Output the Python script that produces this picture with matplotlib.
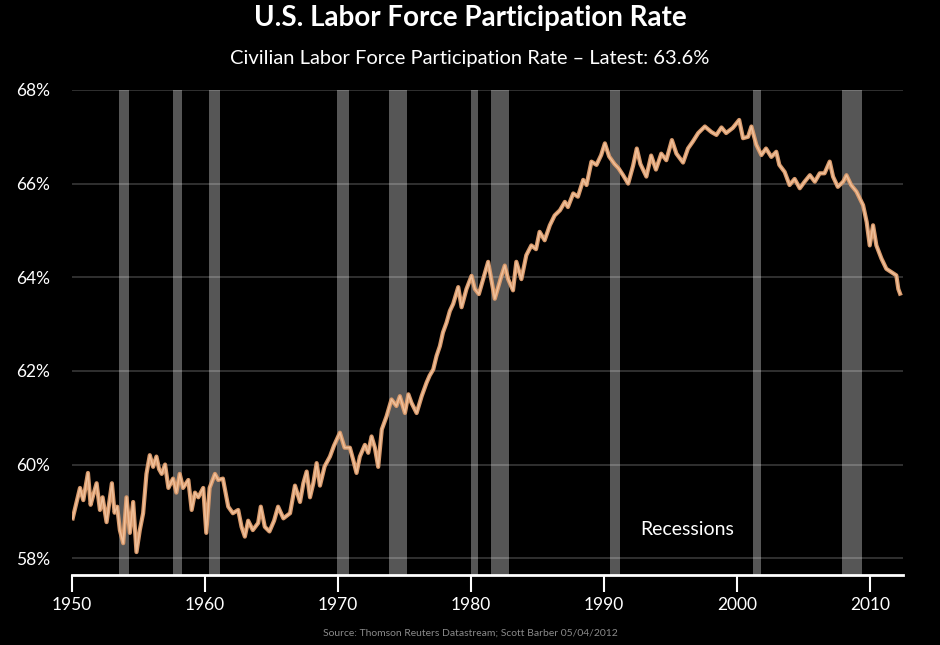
import numpy as np
import matplotlib.pyplot as plt
from matplotlib.ticker import FuncFormatter

plt.rcParams['font.family'] = ['Lato', 'DejaVu Sans']

# participation rate (year, percent)
years = [
    1950.05, 1950.35, 1950.6, 1950.85, 1951.2, 1951.4, 1951.6, 1951.85, 1952.1, 1952.3,
    1952.6, 1953.0, 1953.2, 1953.4, 1953.6, 1953.85, 1954.1, 1954.35, 1954.6, 1954.85,
    1955.1, 1955.35, 1955.6, 1955.85, 1956.1, 1956.35, 1956.55, 1956.75, 1957.0, 1957.25,
    1957.6, 1957.85, 1958.1, 1958.35, 1958.75, 1959.0, 1959.25, 1959.5, 1959.87, 1960.1,
    1960.35, 1960.75, 1961.0, 1961.35, 1961.75, 1962.1, 1962.5, 1962.75, 1963.0, 1963.25,
    1963.6, 1964.0, 1964.2, 1964.5, 1964.85, 1965.2, 1965.5, 1965.9, 1966.4, 1966.77,
    1967.15, 1967.4, 1967.65, 1967.9, 1968.15, 1968.4, 1968.65, 1969.0, 1969.4, 1969.7,
    1970.15, 1970.5, 1970.9, 1971.15, 1971.4, 1971.65, 1972.03, 1972.28, 1972.53, 1972.78,
    1973.03, 1973.3, 1973.66, 1974.03, 1974.4, 1974.66, 1975.04, 1975.3, 1975.53, 1975.92,
    1976.3, 1976.67, 1976.9, 1977.17, 1977.42, 1977.67, 1977.9, 1978.17, 1978.42, 1978.67,
    1979.05, 1979.3, 1979.67, 1980.05, 1980.3, 1980.6, 1981.3, 1981.8, 1982.3, 1982.55,
    1982.8, 1983.17, 1983.42, 1983.8, 1984.17, 1984.55, 1984.9, 1985.17, 1985.55, 1985.94,
    1986.3, 1986.7, 1987.07, 1987.3, 1987.7, 1988.05, 1988.45, 1988.7, 1989.07, 1989.45,
    1989.8, 1990.08, 1990.4, 1990.8, 1991.1, 1991.45, 1991.83, 1992.2, 1992.48, 1992.75,
    1993.2, 1993.56, 1993.92, 1994.32, 1994.7, 1995.12, 1995.46, 1995.96, 1996.33, 1996.7,
    1997.1, 1997.6, 1998.1, 1998.47, 1998.85, 1999.2, 1999.7, 2000.18, 2000.47, 2000.85,
    2001.1, 2001.47, 2001.85, 2002.2, 2002.6, 2002.97, 2003.2, 2003.6, 2003.97, 2004.35,
    2004.74, 2005.1, 2005.5, 2005.87, 2006.24, 2006.6, 2006.99, 2007.24, 2007.6, 2008.0,
    2008.25, 2008.6, 2009.0, 2009.5, 2009.77, 2010.0, 2010.25, 2010.5, 2010.88, 2011.25,
    2011.63, 2012.0, 2012.15, 2012.28,
]
rate = [
    58.85, 59.2, 59.5, 59.24, 59.82, 59.14, 59.35, 59.6, 59.03, 59.3,
    58.77, 59.6, 58.97, 59.1, 58.6, 58.32, 59.3, 58.54, 59.2, 58.13,
    58.6, 58.96, 59.8, 60.2, 59.95, 60.17, 59.9, 59.8, 60.0, 59.5,
    59.7, 59.4, 59.8, 59.5, 59.67, 59.03, 59.4, 59.3, 59.5, 58.54,
    59.5, 59.8, 59.67, 59.7, 59.1, 58.96, 59.03, 58.67, 58.46, 58.8,
    58.6, 58.75, 59.1, 58.67, 58.57, 58.8, 59.1, 58.85, 58.96, 59.55,
    59.2, 59.6, 59.85, 59.3, 59.6, 60.03, 59.55, 59.96, 60.17, 60.4,
    60.68, 60.36, 60.36, 60.1, 59.82, 60.17, 60.42, 60.25, 60.6, 60.36,
    59.95, 60.75, 61.03, 61.39, 61.25, 61.46, 61.1, 61.5, 61.32, 61.1,
    61.46, 61.75, 61.9, 62.03, 62.32, 62.53, 62.82, 63.03, 63.28, 63.43,
    63.79, 63.36, 63.75, 64.03, 63.75, 63.64, 64.33, 63.54, 64.03, 64.25,
    63.96, 63.72, 64.33, 63.96, 64.47, 64.68, 64.6, 64.97, 64.79, 65.11,
    65.32, 65.43, 65.61, 65.5, 65.79, 65.72, 66.08, 65.97, 66.47, 66.4,
    66.61, 66.86, 66.58, 66.42, 66.33, 66.18, 66.0, 66.38, 66.75, 66.42,
    66.15, 66.6, 66.3, 66.64, 66.5, 66.93, 66.64, 66.45, 66.75, 66.9,
    67.08, 67.22, 67.1, 67.04, 67.2, 67.08, 67.19, 67.36, 66.97, 67.0,
    67.22, 66.83, 66.61, 66.75, 66.57, 66.68, 66.4, 66.25, 65.97, 66.1,
    65.9, 66.04, 66.18, 66.04, 66.22, 66.22, 66.47, 66.15, 65.93, 66.04,
    66.18, 65.97, 65.83, 65.54, 65.18, 64.68, 65.11, 64.68, 64.4, 64.18,
    64.11, 64.04, 63.75, 63.65,
]

# recession periods (start, end)
rec_start = [1953.5, 1957.6, 1960.3, 1969.9, 1973.85, 1980.0, 1981.5, 1990.5, 2001.2, 2007.95]
rec_end = [1954.3, 1958.3, 1961.1, 1970.85, 1975.2, 1980.5, 1982.85, 1991.2, 2001.85, 2009.45]

xticks = [1950, 1960, 1970, 1980, 1990, 2000, 2010]
yticks = [58, 60, 62, 64, 66, 68]

fig = plt.figure(figsize=(9.4, 6.45), dpi=100, facecolor='black')
ax = fig.add_axes([0.0766, 0.1085, 0.884, 0.752])
ax.set_facecolor('black')

for s, e in zip(rec_start, rec_end):
    ax.axvspan(s, e, color='#565656', lw=0, zorder=1)

for y in yticks:
    ax.axhline(y, color='white', alpha=0.22, lw=1.2, zorder=2)

ax.plot(years, rate, color='#d89a6c', lw=3.0, zorder=3, solid_joinstyle='round')
ax.plot(years, rate, color='#f0c09a', lw=1.1, zorder=4, solid_joinstyle='round')

ax.set_xlim(1950, 2012.5)
ax.set_ylim(57.64, 68)
ax.set_xticks(xticks)
ax.set_yticks(yticks)
ax.yaxis.set_major_formatter(FuncFormatter(lambda v, p: '%d%%' % v))

for sp in ['top', 'right', 'left']:
    ax.spines[sp].set_visible(False)
ax.spines['bottom'].set_color('white')
ax.spines['bottom'].set_linewidth(2)
ax.tick_params(axis='x', colors='white', length=12, width=1.5, labelsize=12.5, pad=4)
ax.tick_params(axis='y', colors='white', length=0, labelsize=12.5, pad=16)

ax.text(1996.3, 58.62, 'Recessions', color='white', fontsize=14, ha='center', va='center')

fig.text(0.5, 0.972, 'U.S. Labor Force Participation Rate', color='white', fontsize=20,
         fontweight='bold', ha='center', va='center')
fig.text(0.5, 0.91, 'Civilian Labor Force Participation Rate \u2013 Latest: 63.6%', color='white',
         fontsize=14.5, ha='center', va='center')
fig.text(0.5, 0.019, 'Source: Thomson Reuters Datastream; Scott Barber 05/04/2012', color='#8a8a8a',
         fontsize=7.5, ha='center', va='center')

fig.savefig('out.png', dpi=100, facecolor='black')
